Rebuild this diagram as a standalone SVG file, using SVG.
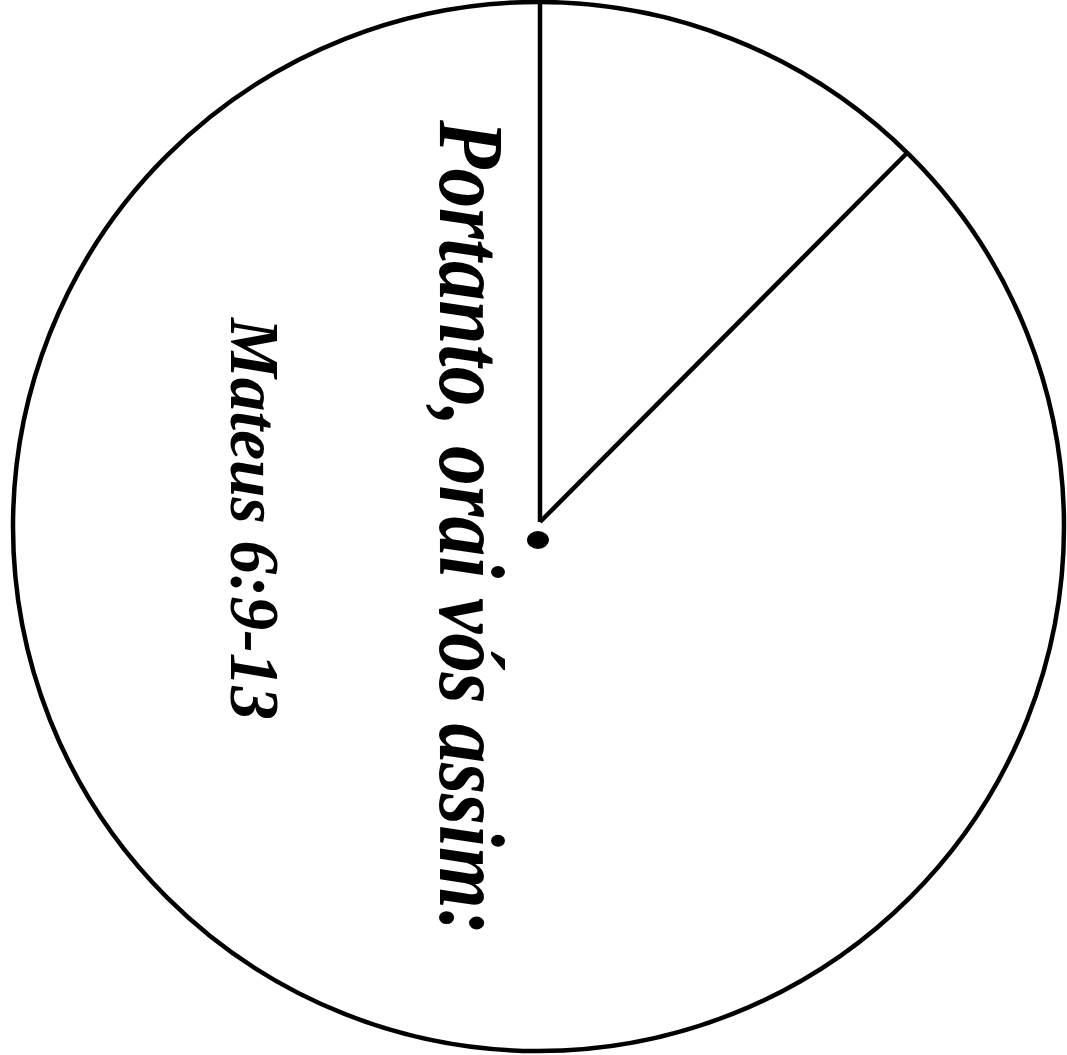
<svg xmlns="http://www.w3.org/2000/svg" width="1067" height="1055" viewBox="0 0 1067 1055">
<style>
.ln{fill:none;stroke:#000;stroke-width:4.5;stroke-linecap:butt}
.t{font-family:"Liberation Serif","DejaVu Serif",serif;font-style:italic;font-weight:bold;fill:#000}
</style>
<rect width="1067" height="1055" fill="#fff"/>
<g id="circle"><ellipse cx="538.5" cy="526.5" rx="525.5" ry="524.5" class="ln"/></g>
<g id="connectors">
<line x1="540" y1="-2" x2="540" y2="522" class="ln"/>
<line x1="540" y1="522" x2="908" y2="152" class="ln"/>
</g>
<g id="dot"><ellipse cx="538" cy="540" rx="11" ry="9" fill="#000"/></g>
<g id="title"><text class="t" font-size="94" transform="translate(440,120) rotate(90)" textLength="815" lengthAdjust="spacingAndGlyphs">Portanto, orai vós assim:</text></g>
<g id="ref"><text class="t" font-size="70" transform="translate(231,318) rotate(90)" textLength="402" lengthAdjust="spacingAndGlyphs">Mateus 6:9-13</text></g>
</svg>
